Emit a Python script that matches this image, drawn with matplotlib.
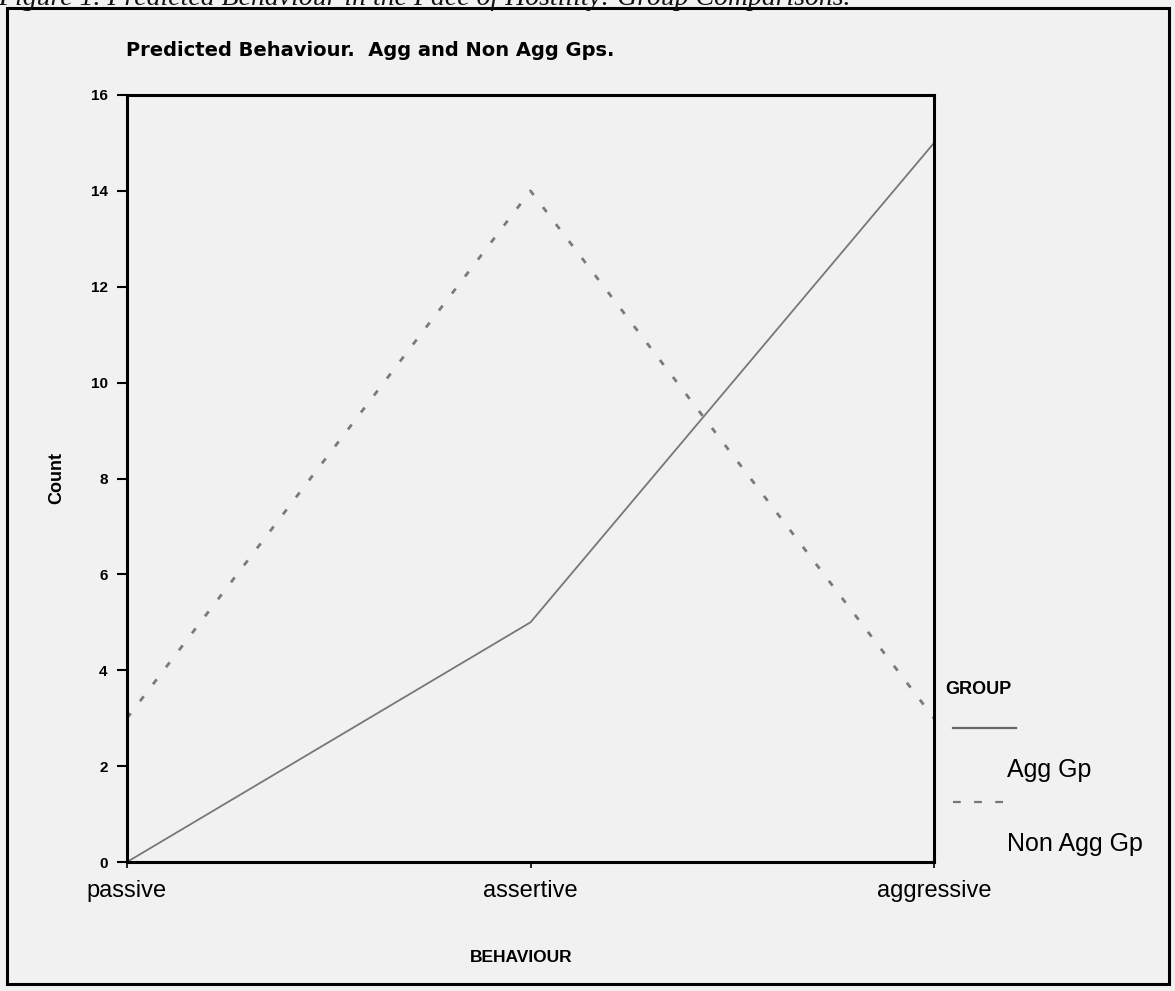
import matplotlib
matplotlib.use("Agg")
import matplotlib.pyplot as plt
from matplotlib.patches import Rectangle
from matplotlib.lines import Line2D

# ---- data ----
categories = ["passive", "assertive", "aggressive"]
agg_gp = [0, 5, 15]
non_agg_gp = [3, 14, 3]
y_ticks = [0, 2, 4, 6, 8, 10, 12, 14, 16]
series_labels = ["Agg Gp", "Non Agg Gp"]

W, H = 1175, 991
BG = "#f1f1f1"
fig = plt.figure(figsize=(W / 100, H / 100), dpi=100, facecolor=BG)

def fx(px):
    return px / W

def fy(py):
    return 1 - py / H

# outer frame
fig.patches.append(Rectangle((fx(7), fy(984)), fx(1169) - fx(7), fy(8) - fy(984),
                             transform=fig.transFigure, fill=False,
                             edgecolor="black", linewidth=2.2))

# cut-off caption at very top
fig.text(fx(-2), fy(5), "Figure 1. Predicted Behaviour in the Face of Hostility: Group Comparisons.",
         family="Liberation Serif", style="italic", fontsize=20, va="baseline", ha="left",
         color="#111111")

# axes
left, right, top, bottom = 127, 934, 95, 862
ax = fig.add_axes([fx(left), fy(bottom), fx(right) - fx(left), fy(top) - fy(bottom)])
ax.set_facecolor(BG)

x = list(range(len(categories)))
ax.plot(x, agg_gp, color="#777777", linewidth=1.3, linestyle="-")
ax.plot(x, non_agg_gp, color="#7a7a7a", linewidth=2.0, linestyle=(0, (2.2, 5.5)))

ax.set_xlim(0, 2)
ax.set_ylim(0, 16)
ax.set_xticks(x)
ax.set_xticklabels(categories, family="Liberation Sans", fontsize=17)
ax.set_yticks(y_ticks)
ax.set_yticklabels([str(v) for v in y_ticks], family="Liberation Sans",
                   fontweight="bold", fontsize=11)
ax.tick_params(axis="y", length=7, width=1.5, pad=7, direction="out")
ax.tick_params(axis="x", length=4, width=1.2, pad=9, direction="out")
for s in ax.spines.values():
    s.set_linewidth(2.2)
    s.set_color("black")

# title, axis labels
fig.text(fx(126), fy(50), "Predicted Behaviour.  Agg and Non Agg Gps.",
         family="DejaVu Sans", fontweight="bold", fontsize=14,
         ha="left", va="center")
fig.text(fx(57), fy(478), "Count", family="Liberation Sans", fontweight="bold",
         fontsize=13, rotation=90, ha="center", va="center")
fig.text(fx(521), fy(957), "BEHAVIOUR", family="Liberation Sans", fontweight="bold",
         fontsize=12.5, ha="center", va="center")

# legend (manual, drawn on figure)
fig.text(fx(945), fy(690), "GROUP", family="Liberation Sans", fontweight="bold",
         fontsize=13, ha="left", va="center")
fig.lines.append(Line2D([fx(953), fx(1016)], [fy(728), fy(728)], transform=fig.transFigure,
                        color="#666666", linewidth=1.6))
fig.text(fx(1007), fy(770), series_labels[0], family="Liberation Sans", fontsize=18,
         ha="left", va="center")
fig.lines.append(Line2D([fx(953), fx(1016)], [fy(802), fy(802)], transform=fig.transFigure,
                        color="#777777", linewidth=1.6, linestyle=(0, (3.5, 6))))
fig.text(fx(1007), fy(844), series_labels[1], family="Liberation Sans", fontsize=18,
         ha="left", va="center")

fig.savefig("out.png", dpi=100, facecolor=BG)
